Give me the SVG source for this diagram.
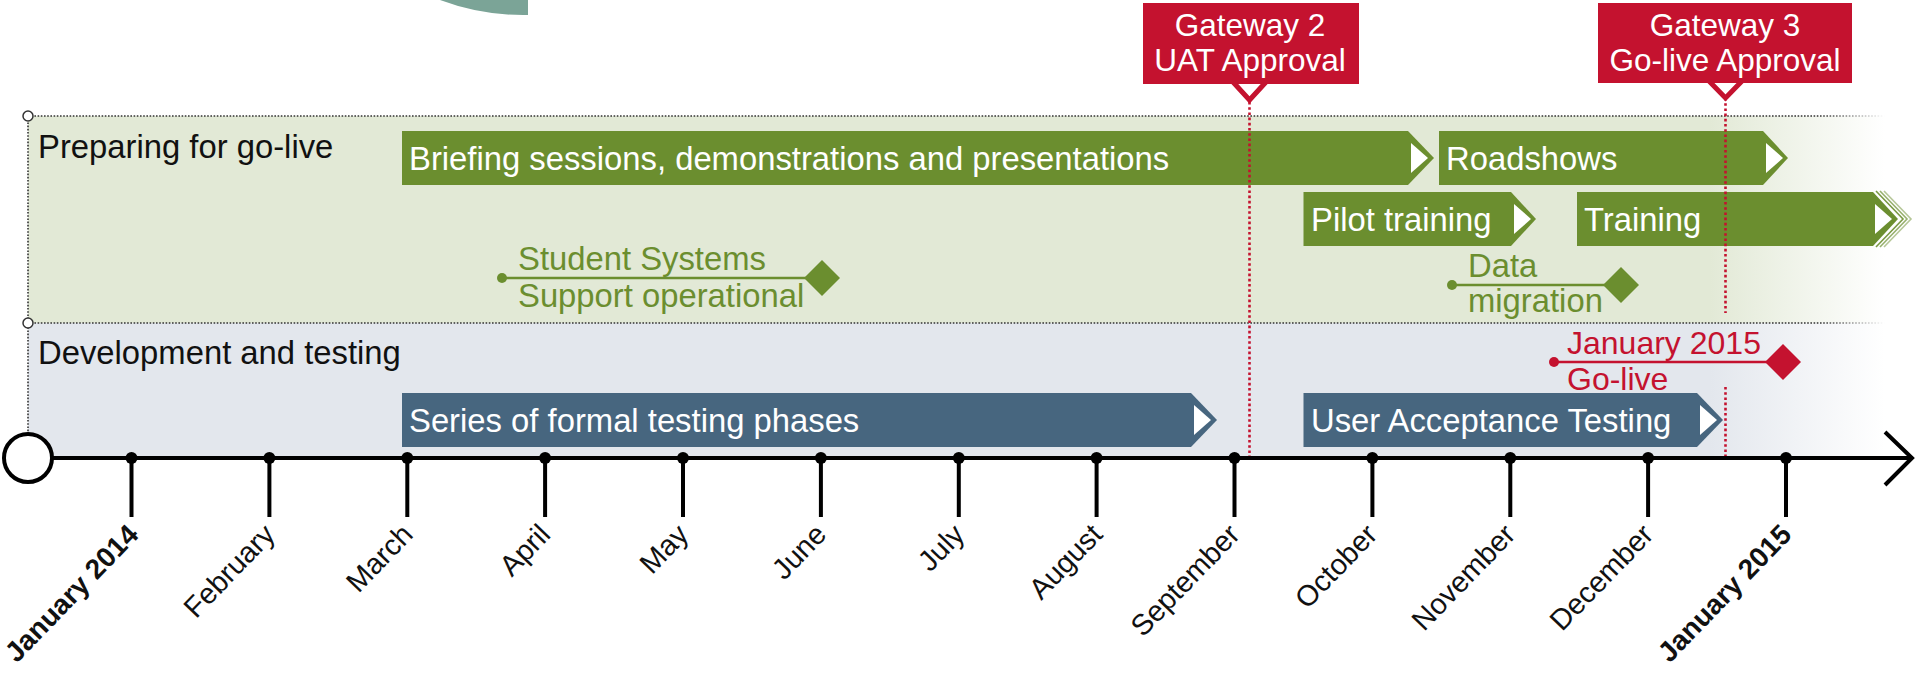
<svg xmlns="http://www.w3.org/2000/svg" width="1917" height="677" viewBox="0 0 1917 677">
<defs>
<linearGradient id="gGreen" gradientUnits="userSpaceOnUse" x1="1710" y1="0" x2="1885" y2="0">
<stop offset="0" stop-color="#e2e9d6"/><stop offset="1" stop-color="#ffffff"/>
</linearGradient>
<linearGradient id="gBlue" gradientUnits="userSpaceOnUse" x1="1710" y1="0" x2="1885" y2="0">
<stop offset="0" stop-color="#e3e7ed"/><stop offset="1" stop-color="#ffffff"/>
</linearGradient>
<linearGradient id="gDot" gradientUnits="userSpaceOnUse" x1="1820" y1="0" x2="1885" y2="0">
<stop offset="0" stop-color="#333333"/><stop offset="1" stop-color="#ffffff"/>
</linearGradient>
</defs>
<style>
text{font-family:"Liberation Sans",Arial,sans-serif;}
.lane{font-size:32.8px;fill:#111;}
.bart{font-size:32.8px;fill:#fff;}
.gt{font-size:31.5px;fill:#fff;text-anchor:middle;}
.green{fill:#6b8e2f;}
.blue{fill:#47667f;}
.red{fill:#c4122f;}
.wt{fill:#fff;}
.mg{font-size:32.8px;fill:#6b8e2f;}
.mr{font-size:32px;fill:#c4122f;}
.mon{font-size:29px;fill:#111;text-anchor:end;}
.jan{font-size:28px;font-weight:bold;fill:#111;text-anchor:end;}
.dotline{stroke:url(#gDot);stroke-width:1.6;stroke-dasharray:1.6 1.6;fill:none;}
.reddot{stroke:#c4122f;stroke-width:2.6;stroke-dasharray:2.6 2.6;fill:none;}
.tick{stroke:#000;stroke-width:4;}
.chev{fill:none;stroke:#6b8e2f;stroke-width:1.6;}
</style>

<path id="deco" d="M440,0 A238,238 0 0 0 528,15 L528,0 Z" fill="#7ba497"/>

<g id="lanes">
<rect x="28" y="116" width="1865" height="207" fill="url(#gGreen)"/>
<rect x="28" y="323" width="1865" height="135" fill="url(#gBlue)"/>
<line class="dotline" x1="28" y1="116" x2="1885" y2="116"/>
<line class="dotline" x1="28" y1="323" x2="1885" y2="323"/>
<line x1="28" y1="116" x2="28" y2="434" stroke="#333" stroke-width="1.6" stroke-dasharray="1.6 1.6"/>
<circle cx="28" cy="116" r="5" fill="#fff" stroke="#333" stroke-width="1.5"/>
<circle cx="28" cy="323" r="5" fill="#fff" stroke="#333" stroke-width="1.5"/>
<text class="lane" x="38" y="158">Preparing for go-live</text>
<text class="lane" x="38" y="364">Development and testing</text>
</g>

<g id="bar-briefing">
<path class="green" d="M402,131 H1408 L1434,158 L1408,185 H402 Z"/>
<path class="wt" d="M1411,143 L1428,158 L1411,173 Z"/>
<text class="bart" x="409" y="169.5">Briefing sessions, demonstrations and presentations</text>
</g>
<g id="bar-roadshows">
<path class="green" d="M1439,131 H1763 L1788,158 L1763,185 H1439 Z"/>
<path class="wt" d="M1766,143 L1783,158 L1766,173 Z"/>
<text class="bart" x="1446" y="169.5">Roadshows</text>
</g>
<g id="bar-pilot">
<path class="green" d="M1303.5,192 H1511 L1536,219 L1511,246 H1303.5 Z"/>
<path class="wt" d="M1514,204 L1531,219 L1514,234 Z"/>
<text class="bart" x="1311" y="230.5">Pilot training</text>
</g>
<g id="bar-training">
<polyline class="chev" points="1876,191 1903,219 1876,247" opacity="0.9"/>
<polyline class="chev" points="1880,191 1907,219 1880,247" opacity="0.7"/>
<polyline class="chev" points="1884,191 1911,219 1884,247" opacity="0.5"/>
<path class="green" d="M1577,192 H1873 L1898,219 L1873,246 H1577 Z"/>
<path class="wt" d="M1875,204 L1892,219 L1875,234 Z"/>
<text class="bart" x="1584" y="230.5">Training</text>
</g>
<g id="bar-series">
<path class="blue" d="M402,393 H1191 L1217,420 L1191,447 H402 Z"/>
<path class="wt" d="M1194,405 L1211,420 L1194,435 Z"/>
<text class="bart" x="409" y="431.5">Series of formal testing phases</text>
</g>
<g id="bar-uat">
<path class="blue" d="M1303.5,393 H1697 L1723,420 L1697,447 H1303.5 Z"/>
<path class="wt" d="M1700,405 L1717,420 L1700,435 Z"/>
<text class="bart" x="1311" y="431.5">User Acceptance Testing</text>
</g>

<g id="ms-student">
<line x1="502" y1="278" x2="815" y2="278" stroke="#6b8e2f" stroke-width="2.6"/>
<circle class="green" cx="502" cy="278" r="5"/>
<path class="green" d="M822,260 L840,278 L822,296 L804,278 Z"/>
<text class="mg" x="518" y="270">Student Systems</text>
<text class="mg" x="518" y="307">Support operational</text>
</g>
<g id="ms-data">
<line x1="1452" y1="285" x2="1615" y2="285" stroke="#6b8e2f" stroke-width="2.6"/>
<circle class="green" cx="1452" cy="285" r="5"/>
<path class="green" d="M1621,267 L1639,285 L1621,303 L1603,285 Z"/>
<text class="mg" x="1468" y="277">Data</text>
<text class="mg" x="1468" y="312">migration</text>
</g>
<g id="ms-golive">
<line x1="1554" y1="362" x2="1777" y2="362" stroke="#c4122f" stroke-width="2.6"/>
<circle class="red" cx="1554" cy="362" r="5"/>
<path class="red" d="M1783,344 L1801,362 L1783,380 L1765,362 Z"/>
<text class="mr" x="1567" y="354">January 2015</text>
<text class="mr" x="1567" y="390">Go-live</text>
</g>

<g id="connectors">
<line class="reddot" x1="1249.5" y1="102" x2="1249.5" y2="456"/>
<line class="reddot" x1="1725.5" y1="98" x2="1725.5" y2="313"/>
<line class="reddot" x1="1725.5" y1="387" x2="1725.5" y2="456"/>
</g>

<g id="gateway2">
<rect class="red" x="1143" y="3" width="216" height="81"/>
<polyline points="1233,82 1249.5,100 1266,82" fill="none" stroke="#c4122f" stroke-width="5"/>
<text class="gt" x="1250" y="36">Gateway 2</text>
<text class="gt" x="1250" y="71">UAT Approval</text>
</g>
<g id="gateway3">
<rect class="red" x="1598" y="3" width="254" height="80"/>
<polyline points="1709,81 1725.5,98 1742,81" fill="none" stroke="#c4122f" stroke-width="5"/>
<text class="gt" x="1725" y="36">Gateway 3</text>
<text class="gt" x="1725" y="71">Go-live Approval</text>
</g>

<g id="axis">
<line x1="52" y1="458" x2="1912" y2="458" stroke="#000" stroke-width="4"/>
<polyline points="1885,432 1912,458 1885,485" fill="none" stroke="#000" stroke-width="4"/>
<circle cx="28" cy="458" r="24" fill="#fff" stroke="#000" stroke-width="4"/>
<g class="ticks">
<line class="tick" x1="131.5" y1="458" x2="131.5" y2="517"/><circle cx="131.5" cy="458" r="6"/>
<line class="tick" x1="269.4" y1="458" x2="269.4" y2="517"/><circle cx="269.4" cy="458" r="6"/>
<line class="tick" x1="407.3" y1="458" x2="407.3" y2="517"/><circle cx="407.3" cy="458" r="6"/>
<line class="tick" x1="545.1" y1="458" x2="545.1" y2="517"/><circle cx="545.1" cy="458" r="6"/>
<line class="tick" x1="683" y1="458" x2="683" y2="517"/><circle cx="683" cy="458" r="6"/>
<line class="tick" x1="820.9" y1="458" x2="820.9" y2="517"/><circle cx="820.9" cy="458" r="6"/>
<line class="tick" x1="958.8" y1="458" x2="958.8" y2="517"/><circle cx="958.8" cy="458" r="6"/>
<line class="tick" x1="1096.6" y1="458" x2="1096.6" y2="517"/><circle cx="1096.6" cy="458" r="6"/>
<line class="tick" x1="1234.5" y1="458" x2="1234.5" y2="517"/><circle cx="1234.5" cy="458" r="6"/>
<line class="tick" x1="1372.4" y1="458" x2="1372.4" y2="517"/><circle cx="1372.4" cy="458" r="6"/>
<line class="tick" x1="1510.3" y1="458" x2="1510.3" y2="517"/><circle cx="1510.3" cy="458" r="6"/>
<line class="tick" x1="1648.1" y1="458" x2="1648.1" y2="517"/><circle cx="1648.1" cy="458" r="6"/>
<line class="tick" x1="1786" y1="458" x2="1786" y2="517"/><circle cx="1786" cy="458" r="6"/>
</g>
<text class="jan" x="140" y="536" transform="rotate(-46 140 536)">January 2014</text>
<text class="mon" x="276.5" y="536" transform="rotate(-46 276.5 536)">February</text>
<text class="mon" x="414.5" y="536" transform="rotate(-46 414.5 536)">March</text>
<text class="mon" x="552" y="536" transform="rotate(-46 552 536)">April</text>
<text class="mon" x="690" y="536" transform="rotate(-46 690 536)">May</text>
<text class="mon" x="828" y="536" transform="rotate(-46 828 536)">June</text>
<text class="mon" x="966" y="536" transform="rotate(-46 966 536)">July</text>
<text class="mon" x="1104" y="536" transform="rotate(-46 1104 536)">August</text>
<text class="mon" x="1241.5" y="536" transform="rotate(-46 1241.5 536)">September</text>
<text class="mon" x="1379" y="536" transform="rotate(-46 1379 536)">October</text>
<text class="mon" x="1517" y="536" transform="rotate(-46 1517 536)">November</text>
<text class="mon" x="1655" y="536" transform="rotate(-46 1655 536)">December</text>
<text class="jan" x="1793" y="536" transform="rotate(-46 1793 536)">January 2015</text>
</g>
</svg>
